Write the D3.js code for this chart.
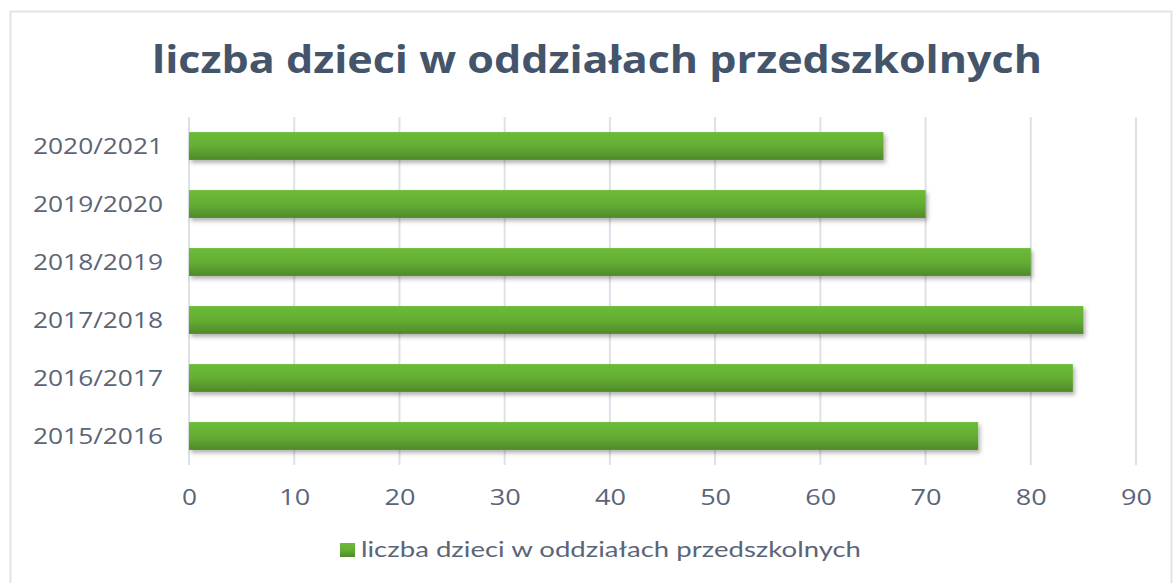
<!DOCTYPE html>
<html>
<head>
<meta charset="utf-8">
<script src="https://cdn.jsdelivr.net/npm/d3@7"></script>
<style>
  body { margin: 0; background: #fff; }
  svg { display: block; }
</style>
</head>
<body>
<div id="chart"></div>
<script>
// chart data
const years = ["2015/2016", "2016/2017", "2017/2018", "2018/2019", "2019/2020", "2020/2021"];
const children = [75, 84, 85, 80, 70, 66];
const xTicks = [0, 10, 20, 30, 40, 50, 60, 70, 80, 90];
const seriesName = "liczba dzieci w oddziałach przedszkolnych";

const width = 1174, height = 583;
const margin = {top: 117, bottom: 118, left: 189, right: 38};

const svg = d3.select('#chart')
    .append('svg')
    .attr('width', width)
    .attr('height', height);

// gradient + shadow for the bars
const defs = svg.append('defs');
const grad = defs.append('linearGradient')
    .attr('id', 'barGrad')
    .attr('x1', 0).attr('y1', 0).attr('x2', 0).attr('y2', 1);
grad.append('stop').attr('offset', '0%').attr('stop-color', '#6cbb38');
grad.append('stop').attr('offset', '50%').attr('stop-color', '#64ae33');
grad.append('stop').attr('offset', '100%').attr('stop-color', '#4f8a2a');

const shadow = defs.append('filter')
    .attr('id', 'shadow')
    .attr('x', '-5%').attr('y', '-30%').attr('width', '110%').attr('height', '170%');
shadow.append('feDropShadow')
    .attr('dx', 2).attr('dy', 3).attr('stdDeviation', 2)
    .attr('flood-color', '#000').attr('flood-opacity', 0.3);

// outer frame
svg.append('rect')
    .attr('x', 10.5).attr('y', 11.5)
    .attr('width', 1161).attr('height', 600)
    .attr('fill', 'none')
    .attr('stroke', '#dfe3ea')
    .attr('stroke-width', 2);

// scales
const xScale = d3.scaleLinear()
    .domain([0, 90])
    .range([margin.left, width - margin.right]);

const yScale = d3.scaleBand()
    .domain(years.slice().reverse())
    .range([margin.top, height - margin.bottom])
    .paddingInner(0.52)
    .paddingOuter(0.26);

// gridlines
svg.append('g')
    .selectAll('line')
    .data(xTicks)
    .enter().append('line')
    .attr('x1', d => xScale(d))
    .attr('x2', d => xScale(d))
    .attr('y1', margin.top)
    .attr('y2', height - margin.bottom)
    .attr('stroke', '#dde1e8')
    .attr('stroke-width', 2);

// x axis labels (the original text is stretched sideways)
const xAxis = svg.append('g')
    .attr('transform', `translate(0,${height - margin.bottom + 24})`)
    .call(d3.axisBottom(xScale).tickValues(xTicks).tickSize(0).tickPadding(0));
xAxis.select('.domain').remove();
xAxis.selectAll('text')
    .style('font-family', 'Open Sans')
    .style('font-size', '22px')
    .attr('fill', '#5a6578')
    .attr('textLength', d => String(d).length * 16 - 1)
    .attr('lengthAdjust', 'spacingAndGlyphs');

// y axis labels
const yAxis = svg.append('g')
    .attr('transform', `translate(${margin.left - 26},0)`)
    .call(d3.axisLeft(yScale).tickSize(0).tickPadding(0));
yAxis.select('.domain').remove();
yAxis.selectAll('text')
    .style('font-family', 'Open Sans')
    .style('font-size', '22px')
    .attr('fill', '#5a6578')
    .attr('dy', '0.35em')
    .attr('textLength', 130)
    .attr('lengthAdjust', 'spacingAndGlyphs');

// bars
svg.append('g')
    .selectAll('rect')
    .data(years)
    .enter().append('rect')
    .attr('x', xScale(0))
    .attr('y', d => yScale(d))
    .attr('width', (d, i) => xScale(children[i]) - xScale(0))
    .attr('height', yScale.bandwidth())
    .attr('fill', 'url(#barGrad)')
    .attr('filter', 'url(#shadow)');

// title
svg.append('text')
    .attr('x', 597)
    .attr('y', 73)
    .attr('text-anchor', 'middle')
    .attr('textLength', 890)
    .attr('lengthAdjust', 'spacingAndGlyphs')
    .style('font-family', 'Open Sans')
    .style('font-weight', 'bold')
    .style('font-size', '37px')
    .style('fill', '#44546a')
    .text(seriesName);

// legend
svg.append('rect')
    .attr('x', 340).attr('y', 543)
    .attr('width', 15).attr('height', 14)
    .attr('fill', 'url(#barGrad)');

svg.append('text')
    .attr('x', 361)
    .attr('y', 557)
    .attr('textLength', 500)
    .attr('lengthAdjust', 'spacingAndGlyphs')
    .style('font-family', 'Lato')
    .style('font-size', '22px')
    .style('fill', '#5a6578')
    .text(seriesName);
</script>
</body>
</html>
